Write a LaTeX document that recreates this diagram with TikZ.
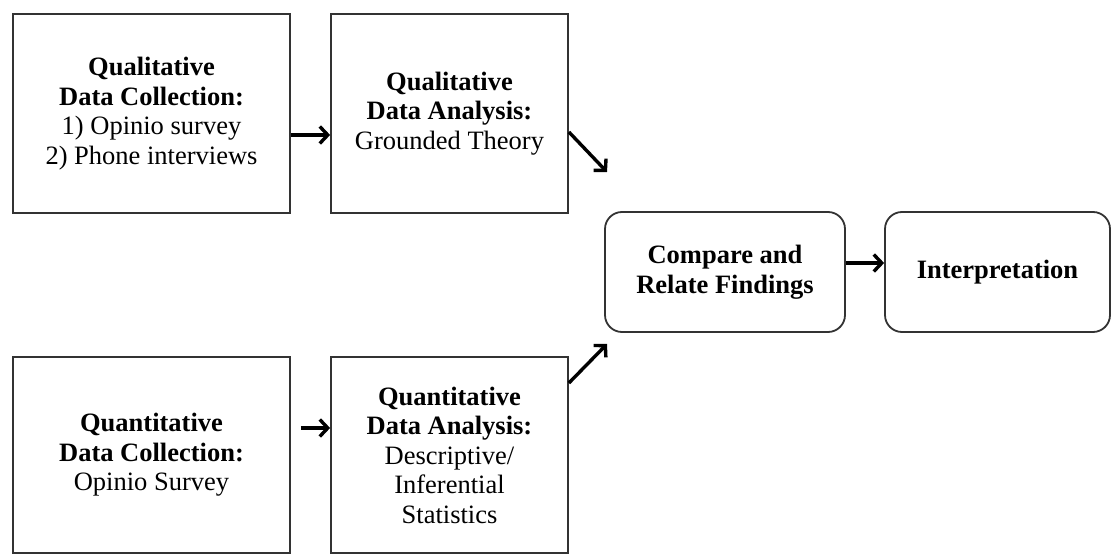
\documentclass[tikz,border=0pt]{standalone}
\usepackage{fontspec}
\setmainfont{Liberation Serif}
\usetikzlibrary{arrows.meta,calc}
\begin{document}
\begin{tikzpicture}[x=1pt,y=-1pt,
  box/.style={draw=black!80, line width=1.8pt, fill=white, align=center,
    font=\fontsize{26.5}{29.5}\selectfont, inner sep=2pt},
  rbox/.style={box, rounded corners=17pt},
  conn/.style={line width=3.4pt, -{Straight Barb[length=8pt,width=17pt,line width=3.4pt]}}
]
\useasboundingbox (0,0) rectangle (1112,556);
\node[box, minimum width=277pt, minimum height=199pt] (qlc) at (151.5,113.5)
  {\textbf{Qualitative}\\ \textbf{Data Collection:}\\ 1) Opinio survey\\ 2) Phone interviews};
\node[box, minimum width=237pt, minimum height=199pt] (qla) at (449.5,113.5)
  {\textbf{Qualitative}\\ \textbf{Data Analysis:}\\ Grounded Theory};
\node[box, minimum width=277pt, minimum height=196pt] (qnc) at (151.5,455)
  {\textbf{Quantitative}\\ \textbf{Data Collection:}\\ Opinio Survey};
\node[box, minimum width=237pt, minimum height=196pt] (qna) at (449.5,455)
  {\textbf{Quantitative}\\ \textbf{Data Analysis:}\\ Descriptive/\\ Inferential\\ Statistics};
\node[rbox, minimum width=240pt, minimum height=120pt] (cmp) at (725,272)
  {\textbf{Compare and}\\ \textbf{Relate Findings}};
\node[rbox, minimum width=225pt, minimum height=120pt] (int) at (997.5,272)
  {\textbf{Interpretation}};
\coordinate (t1) at (607,172);
\coordinate (t2) at (607,344);
\draw[conn] (qlc.east |- 0,135) -- (qla.west |- 0,135);
\draw[conn, shorten <=10pt] (qnc.east |- 0,428) -- (qna.west |- 0,428);
\draw[conn] (qla.east |- 0,132) -- (t1);
\draw[conn] (qna.east |- 0,383) -- (t2);
\draw[conn] (cmp.east |- 0,263) -- (int.west |- 0,263);
\end{tikzpicture}
\end{document}
